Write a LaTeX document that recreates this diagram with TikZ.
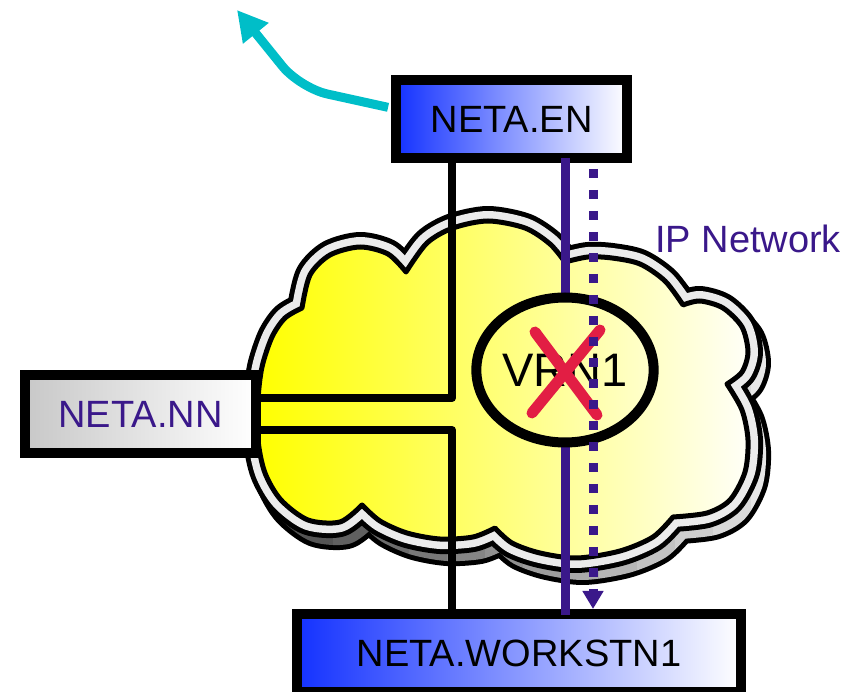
\documentclass[tikz,border=0pt]{standalone}
\usepackage{fontspec}
\setmainfont{Liberation Sans}
\usetikzlibrary{shapes.geometric,arrows.meta,calc}

\definecolor{enblue}{RGB}{20,50,255}
\definecolor{nngray}{RGB}{200,200,200}
\definecolor{netpurple}{RGB}{58,24,138}
\definecolor{linkcyan}{RGB}{0,190,200}
\definecolor{failred}{RGB}{226,30,68}

\newcommand{\cloudoutline}{(302,308)
  -- plot[smooth] coordinates {(302,308) (310,275) (330,255) (360,247) (388,254) (406,272)}
  -- plot[smooth] coordinates {(406,272) (427,243) (453,228) (488,221) (525,228) (550,244) (565,262)}
  -- plot[smooth] coordinates {(565,262) (588,257) (612,258) (640,264) (665,281) (683,305)}
  -- plot[smooth] coordinates {(683,305) (700,301) (723,308) (742,327) (748,352) (742,372) (727,384)}
  -- plot[smooth] coordinates {(727,384) (742,410) (748,440) (745,472) (730,500) (707,513) (673,517)}
  -- plot[smooth] coordinates {(673,517) (653,537) (620,551) (577,558) (540,553) (512,543) (495,528)}
  -- plot[smooth] coordinates {(495,528) (473,537) (440,539) (407,533) (380,521) (362,505)}
  -- plot[smooth] coordinates {(362,505) (340,522) (308,520) (281,500) (265,473) (258,440) (258,400) (262,367) (272,337) (285,318) (302,308)}
  -- cycle}

\tikzset{
    box/.style={draw, line width=10pt, inner sep=0pt, minimum height=78pt, font=\fontsize{38}{40}\selectfont},
    wire/.style={line width=8pt, line join=round},
    vpnlink/.style={netpurple, line width=9pt},
    ipflow/.style={netpurple, line width=9pt, dash pattern=on 9pt off 12pt, shorten <=6pt, -{Triangle[length=18pt,width=20pt]}},
    uplink/.style={linkcyan, line width=9pt, rounded corners=28pt, shorten <=3pt, -{Triangle[length=30pt,width=31pt]}},
    cross/.style={failred, line width=11pt, line cap=round},
    rim/.style={line width=#1, line join=round}
}

\begin{document}
\begin{tikzpicture}[x=1pt, y=-1pt]
            \useasboundingbox (0,0) rectangle (863,692);

            \begin{scope}[shift={(7,11)}]
                \draw[rim=32pt] \cloudoutline;
                \foreach \i in {0,...,13} {
                    \pgfmathsetmacro\sx{250+38*\i}
                    \pgfmathsetmacro\sg{72-4.8*\i}
                    \begin{scope}
                        \clip (\sx,150) rectangle (\sx+38,650);
                        \draw[rim=22pt, black!\sg] \cloudoutline;
                    \end{scope}
                }
            \end{scope}
            \draw[rim=30pt] \cloudoutline;
            \draw[rim=20pt, black!8] \cloudoutline;
            \shade[left color=yellow, right color=yellow!3!white] \cloudoutline;
            \draw[rim=5pt] \cloudoutline;

            \node (en) [box, minimum width=231pt, left color=enblue, right color=white] at (511.5,119) {NETA.EN};
            \node (nn) [box, minimum width=231pt, left color=nngray, right color=white, text=netpurple] at (140.5,414) {NETA.NN};
            \node (ws) [box, minimum width=444pt, left color=enblue, right color=white] at (519,653) {NETA.WORKSTN1};

            \coordinate (bus) at (452,414);
            \draw[wire] (en.south -| bus) |- ([yshift=16pt]nn.east);
            \draw[wire] ([yshift=-16pt]nn.east) -| (ws.north -| bus);

            \coordinate (hub) at (565,370);
            \draw[vpnlink, shorten <=-5pt, shorten >=-6pt] (en.south -| hub) -- (ws.north -| hub);

            \node (vrn) [ellipse, draw, line width=10pt, minimum width=176pt, minimum height=145pt, inner sep=0pt, left color=yellow!57!white, right color=yellow!19!white, font=\fontsize{47}{49}\selectfont] at (hub) {VRN1};
            \draw[cross] ([shift={(-30,-38)}]vrn.center) -- ([shift={(32,45)}]vrn.center);
            \draw[cross] ([shift={(35,-40)}]vrn.center) -- ([shift={(-33,43)}]vrn.center);

            \coordinate (tap) at ([xshift=28pt]vrn.center);
            \draw[ipflow] (en.south -| tap) -- (ws.north -| tap);

            \coordinate (cyantip) at (237,10);
            \draw[uplink] ([yshift=11pt]en.west) -- (300,88) -- (cyantip);

            \node (ipnet) [anchor=base west, inner sep=0pt, text=netpurple, font=\fontsize{38}{40}\selectfont] at (655,253) {IP Network};
\end{tikzpicture}
\end{document}
